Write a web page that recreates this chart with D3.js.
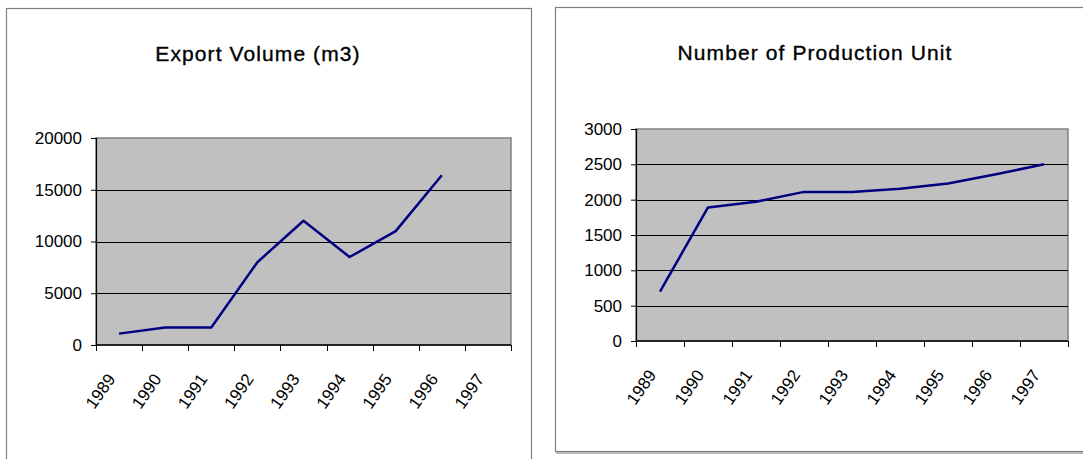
<!DOCTYPE html>
<html><head><meta charset="utf-8">
<script src="https://cdn.jsdelivr.net/npm/d3@7"></script>
<style>body{margin:0;background:#fff}svg{display:block}text{font-family:"Liberation Sans",Arial,sans-serif}</style>
</head><body>
<svg id="c" width="1083" height="459"></svg>
<script>
const years = ["1989","1990","1991","1992","1993","1994","1995","1996","1997"];
const exportVolume = [1100,1700,1700,8000,12000,8500,11000,16400,null];
const productionUnits = [700,1890,1970,2110,2110,2155,2230,2360,2500];
const exportTicks = [0,5000,10000,15000,20000];
const unitTicks = [0,500,1000,1500,2000,2500,3000];

const svg = d3.select("#c");

function chart(o){
  const g = svg.append("g");
  g.append("rect").attr("x",o.frame[0]+0.5).attr("y",o.frame[1]+0.5)
   .attr("width",o.frame[2]).attr("height",o.frame[3])
   .attr("fill","#fff").attr("stroke","#808080").attr("stroke-width",1.2);
  g.append("text").attr("x",o.titleX).attr("y",o.titleY).attr("text-anchor","middle")
   .attr("font-size",21).attr("letter-spacing",1.1).attr("fill","#000")
   .attr("stroke","#000").attr("stroke-width",0.35).text(o.title);
  const x = d3.scaleBand().domain(years).range([o.x0,o.x1]).paddingInner(0).paddingOuter(0);
  const y = d3.scaleLinear().domain([0,o.max]).range([o.y0,o.y1]);
  g.append("rect").attr("x",o.x0).attr("y",o.y1).attr("width",o.x1-o.x0).attr("height",o.y0-o.y1)
   .attr("fill","#c0c0c0").attr("stroke","#808080").attr("stroke-width",1.5);
  g.selectAll(".grid").data(o.ticks.filter(t=>t>0&&t<o.max)).join("line")
   .attr("x1",o.x0).attr("x2",o.x1).attr("y1",d=>Math.round(y(d))+0.5).attr("y2",d=>Math.round(y(d))+0.5)
   .attr("stroke","#000").attr("stroke-width",1);
  const ya = g.append("g").attr("transform",`translate(${o.x0},0)`)
   .call(d3.axisLeft(y).tickValues(o.ticks).tickSize(5).tickPadding(9).tickFormat(d3.format("d")));
  ya.select(".domain").attr("stroke","#000").attr("stroke-width",1.2);
  ya.selectAll("text").attr("font-size",17).attr("fill","#000").attr("font-family","Liberation Sans, Arial, sans-serif");
  const bounds = years.map(d=>x(d)).concat([o.x1]);
  g.append("line").attr("x1",o.x0).attr("x2",o.x1).attr("y1",o.y0).attr("y2",o.y0).attr("stroke","#000").attr("stroke-width",1.5);
  g.selectAll(".xt").data(bounds).join("line")
   .attr("x1",d=>Math.round(d)+0.5).attr("x2",d=>Math.round(d)+0.5).attr("y1",o.y0).attr("y2",o.y0+6)
   .attr("stroke","#000").attr("stroke-width",1);
  g.selectAll(".xl").data(years).join("text")
   .attr("transform",d=>`translate(${x(d)+x.bandwidth()/2-3},${o.y0+34}) rotate(-55)`)
   .attr("text-anchor","end").attr("font-size",17).attr("fill","#000").text(d=>d);
  const line = d3.line().defined(d=>d[1]!=null).x(d=>x(d[0])+x.bandwidth()/2).y(d=>y(d[1]));
  g.append("path").datum(years.map((yr,i)=>[yr,o.values[i]])).attr("d",line)
   .attr("fill","none").attr("stroke","#000080").attr("stroke-width",2.5).attr("stroke-linejoin","round");
}

chart({frame:[6,8,525,460],title:"Export Volume (m3)",titleX:258,titleY:61,
  x0:96,x1:511,y0:345,y1:138,max:20000,ticks:exportTicks,values:exportVolume});
chart({frame:[555,7,540,444],title:"Number of Production Unit",titleX:815,titleY:60,
  x0:636,x1:1068,y0:341,y1:129,max:3000,ticks:unitTicks,values:productionUnits});
svg.append("line").attr("x1",556).attr("x2",1083).attr("y1",453).attr("y2",453).attr("stroke","#a0a0a0").attr("stroke-width",1.5);
</script>
</body></html>
